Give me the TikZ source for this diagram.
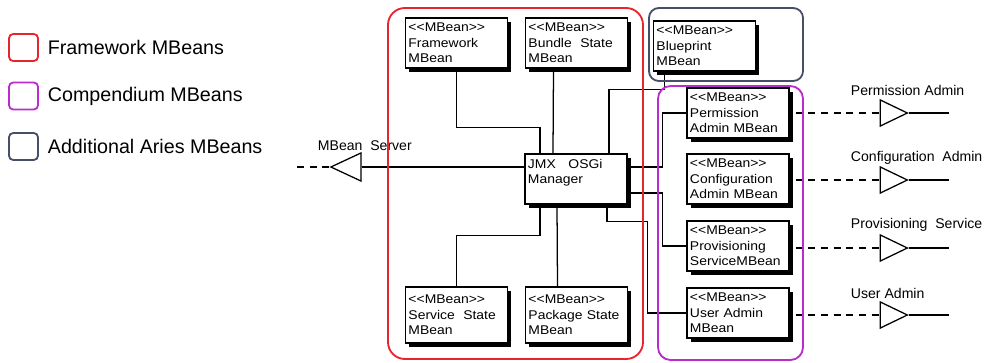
\documentclass[tikz,border=0pt]{standalone}
\usepackage{fontspec}
\setmainfont{Liberation Sans}
\newfontfamily\mbfont[FakeStretch=1.1]{Liberation Sans}
\usetikzlibrary{calc, shadows, shapes.geometric}

\definecolor{fwred}{RGB}{232,36,44}
\definecolor{cppurple}{RGB}{186,44,206}
\definecolor{arnavy}{RGB}{72,78,104}

\newcommand{\mbeantag}{<\kern0pt<MBean>\kern0pt>}

\tikzset{
    mbean/.style = {draw, fill = white, line width = 1pt, minimum width = 2.55cm,
        minimum height = 1.25cm, text width = 2.4cm, align = left, inner xsep = 2pt,
        inner ysep = 0pt, font = \mbfont\fontsize{9}{11}\selectfont,
        drop shadow = {shadow xshift = 2.8pt, shadow yshift = -2.8pt, opacity = 1, fill = black}},
    port/.style = {draw, isosceles triangle, isosceles triangle stretches,
        minimum height = 0.675cm, minimum width = 0.65cm, inner sep = 0pt, line width = 0.9pt},
    link/.style = {line width = 0.9pt},
    plug/.style = {line width = 0.9pt, dash pattern = on 5pt off 4pt},
    group/.style = {line width = 1.3pt, rounded corners = 12pt},
    keybox/.style = {draw, line width = 1.3pt, rounded corners = 3pt,
        minimum width = 0.725cm, minimum height = 0.675cm},
    keytext/.style = {anchor = west, font = \fontsize{14}{16}\selectfont},
    ifacetext/.style = {anchor = west, font = \fontsize{10}{12}\selectfont}
}

\begin{document}
\begin{tikzpicture}[x = 0.025cm, y = -0.025cm]
    \useasboundingbox (0, 0) rectangle (987, 362);

    % === Legend ===
    \node[keybox, draw = fwred] (keyfw) at (23.5, 47.5) {};
    \node[keytext] (keyfwtext) at ($(keyfw.east) + (4, 0)$) {Framework MBeans};
    \node[keybox, draw = cppurple] (keycp) at (23.5, 96) {};
    \node[keytext] (keycptext) at ($(keycp.east) + (4, 0)$) {Compendium MBeans};
    \node[keybox, draw = arnavy] (keyar) at (23.5, 146.5) {};
    \node[keytext] (keyartext) at ($(keyar.east) + (4, 0)$) {Additional Aries MBeans};

    % === Framework MBeans ===
    \node[mbean] (fw) at (456.5, 43) {\mbeantag\\Framework\\MBean};
    \node[mbean] (bundle) at (576.5, 43) {\mbeantag\\Bundle\ \ State\\MBean};
    \node[mbean] (mgr) at (576, 179) {JMX\ \ \ OSGi\\Manager\\\mbox{}};
    \node[mbean, minimum height = 1.4cm] (service) at (456.5, 315) {\mbeantag\\Service\ \ State\\MBean};
    \node[mbean, minimum height = 1.4cm] (pkg) at (576.5, 315) {\mbeantag\\Package State\\MBean};

    % === Additional Aries MBeans ===
    \node[mbean] (bp) at (704.5, 46) {\mbeantag\\Blueprint\\MBean};

    % === Compendium MBeans ===
    \node[mbean] (perm) at (738, 113) {\mbeantag\\Permission\\Admin MBean};
    \node[mbean] (conf) at (738, 179) {\mbeantag\\Configuration\\Admin MBean};
    \node[mbean] (prov) at (738, 246) {\mbeantag\\Provisioning\\ServiceMBean};
    \node[mbean] (user) at (738, 313) {\mbeantag\\User Admin\\MBean};

    % === Connections to the manager ===
    \draw[link] (fw.south) -- ++(0, 59) -| ($(mgr.north) + (-36, 0)$);
    \draw[link] ($(bundle.south) + (-23, 0)$) -- ($(mgr.north) + (-23, 0)$);
    \draw[link] ($(mgr.north) + (33, 0)$) |- ($(bp.south) + (-40, 18)$) -- ($(bp.south) + (-40, 0)$);
    \draw[link] ($(mgr.east) + (0, -12)$) -| ($(perm.west) + (-24, 0)$) -- (perm.west);
    \draw[link] ($(mgr.east) + (0, 14)$) -| ($(prov.west) + (-24, 0)$) -- (prov.west);
    \draw[link] ($(mgr.south) + (31, 0)$) -- ++(0, 17) -| ($(user.west) + (-39, 0)$) -- (user.west);
    \draw[link] ($(mgr.south) + (-36, 0)$) -- ++(0, 31) -| (service.north);
    \draw[link] ($(mgr.south) + (-19, 0)$) -- ($(pkg.north) + (-19, 0)$);

    % === MBean server ===
    \node[port, shape border rotate = 180, minimum height = 0.75cm, minimum width = 0.7cm]
        (srvport) at (352, 167) {};
    \node[ifacetext] (srvlabel) at (313, 146) {MBean\ \ Server};
    \draw[plug] (srvport.apex) -- ++(-37, 0);
    \draw[link] (srvport.lower side) -- ($(mgr.west) + (0, -12)$);

    % === Services on the right ===
    \node[port] (permport) at (888.5, 113) {};
    \node[ifacetext] (permlabel) at (846, 90) {Permission Admin};
    \draw[plug] ($(perm.east) + (6, 0)$) -- (permport.lower side);
    \draw[link] (permport.apex) -- ++(40, 0);

    \node[port] (confport) at (888.5, 180) {};
    \node[ifacetext] (conflabel) at (846, 158) {Configuration\ \ Admin};
    \draw[plug] ($(conf.east) + (6, 1)$) -- (confport.lower side);
    \draw[link] (confport.apex) -- ++(40, 0);

    \node[port] (provport) at (888.5, 248) {};
    \node[ifacetext] (provlabel) at (846, 225) {Provisioning\ \ Service};
    \draw[plug] ($(prov.east) + (6, 2)$) -- (provport.lower side);
    \draw[link] (provport.apex) -- ++(40, 0);

    \node[port] (userport) at (888.5, 315) {};
    \node[ifacetext] (userlabel) at (846, 293) {User Admin};
    \draw[plug] ($(user.east) + (6, 2)$) -- (userport.lower side);
    \draw[link] (userport.apex) -- ++(40, 0);

    % === Group outlines ===
    \draw[group, fwred] (388, 8) rectangle (643, 359);
    \draw[group, cppurple, rounded corners = 9pt] (658, 86) rectangle (803, 360);
    \draw[group, arnavy, rounded corners = 7pt] (649, 8) rectangle (803, 81);
\end{tikzpicture}
\end{document}
